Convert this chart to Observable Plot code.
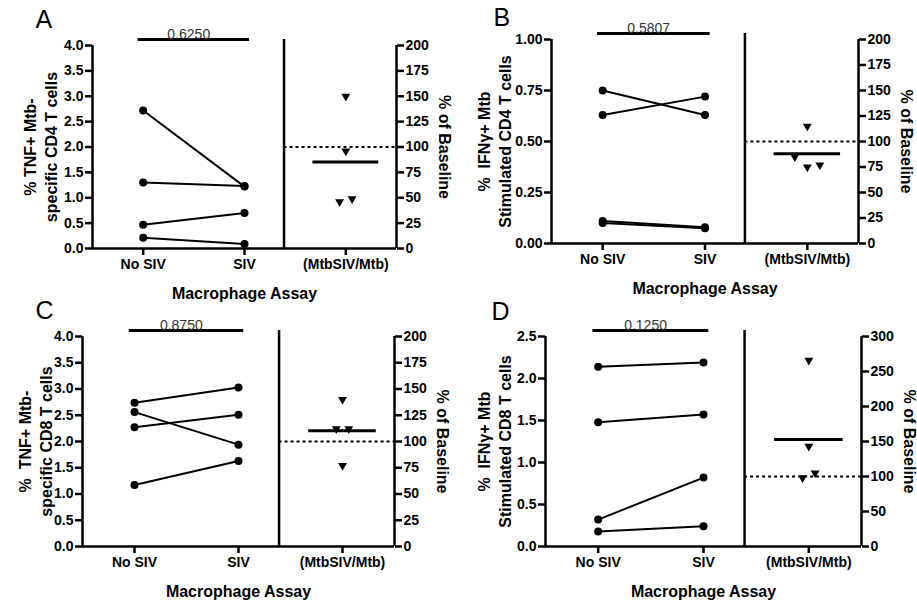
<!DOCTYPE html>
<html><head><meta charset="utf-8">
<script src="https://cdn.jsdelivr.net/npm/d3@7"></script>
<script src="https://cdn.jsdelivr.net/npm/@observablehq/plot@0.6"></script>
<style>
body{margin:0;background:#fff;}
#wrap{position:relative;width:917px;height:603px;background:#fff;overflow:hidden;}
.panel{position:absolute;}
</style></head><body><div id="wrap"></div>
<script>
// ---- shared labels ----
const xCategories = ["No SIV", "SIV", "(MtbSIV/Mtb)"];
const xTitle = "Macrophage Assay";
const rightTitle = "% of Baseline";

// ---- Panel A : TNF+ CD4 ----
const aNoSIV = [2.72, 1.30, 0.47, 0.21];
const aSIV = [1.22, 1.23, 0.70, 0.09];
const aBaseline = [150, 96, 46, 49];
const aPValue = "0.6250";
const aLeftTicks = [0, 0.5, 1.0, 1.5, 2.0, 2.5, 3.0, 3.5, 4.0];
const aRightTicks = [0, 25, 50, 75, 100, 125, 150, 175, 200];

// ---- Panel B : IFNγ+ CD4 ----
const bNoSIV = [0.75, 0.63, 0.11, 0.10];
const bSIV = [0.63, 0.72, 0.08, 0.075];
const bBaseline = [115, 85, 75, 77];
const bPValue = "0.5807";
const bLeftTicks = [0, 0.25, 0.50, 0.75, 1.00];
const bRightTicks = [0, 25, 50, 75, 100, 125, 150, 175, 200];

// ---- Panel C : TNF+ CD8 ----
const cNoSIV = [2.74, 2.56, 2.27, 1.17];
const cSIV = [3.03, 1.94, 2.51, 1.63];
const cBaseline = [140, 112, 112, 77];
const cPValue = "0.8750";
const cLeftTicks = [0, 0.5, 1.0, 1.5, 2.0, 2.5, 3.0, 3.5, 4.0];
const cRightTicks = [0, 25, 50, 75, 100, 125, 150, 175, 200];

// ---- Panel D : IFNγ+ CD8 ----
const dNoSIV = [2.14, 1.48, 0.32, 0.18];
const dSIV = [2.19, 1.57, 0.82, 0.24];
const dBaseline = [266, 143, 98, 105];
const dPValue = "0.1250";
const dLeftTicks = [0, 0.5, 1.0, 1.5, 2.0, 2.5];
const dRightTicks = [0, 50, 100, 150, 200, 250, 300];

const baselineRef = 100;

const panels = [
  {letter: "A", yLabel: "% TNF+ Mtb-\nspecific CD4 T cells", noSIV: aNoSIV, siv: aSIV, base: aBaseline, p: aPValue, lt: aLeftTicks, rt: aRightTicks, digits: 1,
   box: {left: 0, top: 0, w: 458, h: 300, mL: 92, mR: 62, mT: 45, mB: 52, yLabDx: -53, letX: 35, letY: 27}},
  {letter: "B", yLabel: "%  IFNγ+ Mtb\nStimulated CD4 T cells", noSIV: bNoSIV, siv: bSIV, base: bBaseline, p: bPValue, lt: bLeftTicks, rt: bRightTicks, digits: 2,
   box: {left: 458, top: 0, w: 459, h: 300, mL: 93, mR: 59, mT: 39, mB: 57, yLabDx: -58, letX: 35, letY: 25}},
  {letter: "C", yLabel: "%  TNF+ Mtb-\nspecific CD8 T cells", noSIV: cNoSIV, siv: cSIV, base: cBaseline, p: cPValue, lt: cLeftTicks, rt: cRightTicks, digits: 1,
   box: {left: 0, top: 300, w: 458, h: 303, mL: 82, mR: 64, mT: 36, mB: 57, yLabDx: -48, letX: 35, letY: 18}},
  {letter: "D", yLabel: "%  IFNγ+ Mtb\nStimulated CD8 T cells", noSIV: dNoSIV, siv: dSIV, base: dBaseline, p: dPValue, lt: dLeftTicks, rt: dRightTicks, digits: 1,
   box: {left: 458, top: 300, w: 459, h: 303, mL: 87, mR: 56, mT: 36, mB: 57, yLabDx: -52, letX: 33, letY: 19}}
];

const dividerX = 1.39;      // separator between paired plot and ratio column
const pBar = [-0.05, 1.05]; // extent of the comparison bar
const meanHalf = 0.325;     // half-width of the mean line
const dodgePx = 12.5;

function buildPanel(c) {
  const b = c.box;
  const yMax = c.lt[c.lt.length - 1];
  const rMax = c.rt[c.rt.length - 1];
  const k = yMax / rMax;
  const xDom = [-0.5, xCategories.length - 0.5];
  const innerW = b.w - b.mL - b.mR;
  const innerH = b.h - b.mT - b.mB;
  const pxPerX = innerW / (xDom[1] - xDom[0]);
  const pxPerR = innerH / rMax;
  const n = c.base.length;
  // simple dodge of overlapping ratio markers
  const order = d3.range(n).sort((p, q) => c.base[p] - c.base[q]);
  const groups = [];
  let cur = [order[0]];
  for (let j = 1; j < n; j++) {
    if ((c.base[order[j]] - c.base[order[j - 1]]) * pxPerR < 10) cur.push(order[j]);
    else { groups.push(cur); cur = [order[j]]; }
  }
  groups.push(cur);
  const off = new Array(n).fill(0);
  groups.forEach(g => { g.sort((p, q) => p - q); g.forEach((i, j) => off[i] = (j - (g.length - 1) / 2) * dodgePx); });
  const tri = c.base.map((v, i) => ({x: 2 + off[i] / pxPerX, y: v * k}));
  const pairs = d3.range(c.noSIV.length);
  const mean = d3.mean(c.base) * k;

  const chart = Plot.plot({
    width: b.w, height: b.h,
    marginLeft: b.mL, marginRight: b.mR, marginTop: b.mT, marginBottom: b.mB,
    x: {domain: xDom},
    y: {domain: [0, yMax]},
    style: {fontFamily: "'Liberation Sans', Arial, sans-serif", fontWeight: "bold", fontSize: "14px", color: "#000", background: "transparent", overflow: "visible"},
    marks: [
      Plot.ruleY([0], {strokeWidth: 2.5}),
      Plot.ruleX([xDom[0], xDom[1]], {y1: yMax, y2: 0, strokeWidth: 2.5}),
      Plot.ruleX([dividerX], {y1: yMax, y2: 0, insetTop: -6, strokeWidth: 2.5}),
      Plot.axisY({anchor: "left", ticks: c.lt, tickSize: 7, tickPadding: 2, strokeWidth: 2.5, tickFormat: d => d.toFixed(c.digits), fontSize: 14, label: null}),
      Plot.axisY({anchor: "right", ticks: c.rt.map(v => v * k), tickSize: 7, tickPadding: 2, strokeWidth: 2.5, tickFormat: d => String(Math.round(d / k)), fontSize: 14, label: null}),
      Plot.axisX({ticks: d3.range(xCategories.length), tickSize: 7, tickPadding: 4, strokeWidth: 2.5, tickFormat: i => xCategories[i], fontSize: 14, label: null}),
      Plot.ruleY([yMax], {x1: () => pBar[0], x2: () => pBar[1], dy: -6, strokeWidth: 3}),
      Plot.text([c.p], {x: () => 0.45, y: () => yMax, dy: -7, lineAnchor: "bottom", fontWeight: "normal", fill: "#333", fontSize: 14}),
      Plot.link(pairs, {x1: () => 0, x2: () => 1, y1: i => c.noSIV[i], y2: i => c.siv[i], strokeWidth: 2}),
      Plot.dot(pairs, {x: () => 0, y: i => c.noSIV[i], r: 4, fill: "black"}),
      Plot.dot(pairs, {x: () => 1, y: i => c.siv[i], r: 4, fill: "black"}),
      Plot.ruleY([baselineRef * k], {x1: () => dividerX, x2: () => xDom[1], strokeWidth: 2, strokeDasharray: "3,3"}),
      Plot.ruleY([mean], {x1: () => 2 - meanHalf, x2: () => 2 + meanHalf, strokeWidth: 3}),
      Plot.dot(tri, {x: "x", y: "y", symbol: "triangle", r: 3.3, fill: "black", stroke: "none", rotate: 180}),
      Plot.text([c.yLabel], {frameAnchor: "left", rotate: -90, dx: b.yLabDx, textAnchor: "middle", lineAnchor: "middle", fontSize: 16, lineHeight: 1.35}),
      Plot.text([rightTitle], {frameAnchor: "right", rotate: 90, dx: 48, textAnchor: "middle", lineAnchor: "middle", fontSize: 16}),
      Plot.text([xTitle], {frameAnchor: "bottom", dy: 50, lineAnchor: "bottom", fontSize: 16}),
      Plot.text([c.letter], {frameAnchor: "top-left", dx: b.letX - b.mL, dy: b.letY - b.mT, lineAnchor: "bottom", textAnchor: "start", fontSize: 25, fontWeight: "normal"})
    ]
  });
  const div = document.createElement("div");
  div.className = "panel";
  div.style.left = b.left + "px";
  div.style.top = b.top + "px";
  div.style.width = b.w + "px";
  div.style.height = b.h + "px";
  div.appendChild(chart);
  document.getElementById("wrap").appendChild(div);
}
panels.forEach(buildPanel);
</script></body></html>
